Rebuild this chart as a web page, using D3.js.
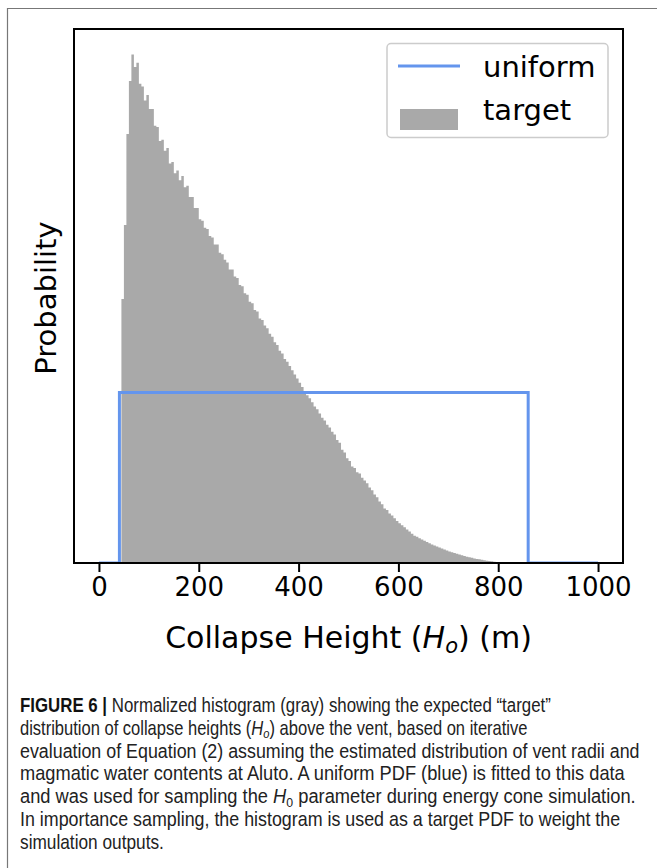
<!DOCTYPE html>
<html>
<head>
<meta charset="utf-8">
<script src="https://cdn.jsdelivr.net/npm/d3@7"></script>
<style>
  html, body { margin: 0; padding: 0; background: #fff; }
  svg { display: block; }
</style>
</head>
<body>
<svg id="chart" width="657" height="868"></svg>
<script>
// ---------------- DATA ----------------
// Target histogram: bins of width 5 m starting at 45 m; density in units of 1e-3 per m
const targetBinStart = 45;
const targetBinWidth = 5;
const targetDensity = [
  1.89, 2.42, 3.07, 3.45, 3.64, 3.55, 3.58, 3.43, 3.41, 3.31,
  3.35, 3.25, 3.25, 3.13, 3.12, 3.02, 3.03, 2.95, 2.97, 2.86,
  2.87, 2.79, 2.81, 2.74, 2.77, 2.69, 2.70, 2.62, 2.62, 2.54,
  2.54, 2.46, 2.45, 2.40, 2.39, 2.34, 2.33, 2.28, 2.28, 2.22,
  2.21, 2.17, 2.15, 2.10, 2.10, 2.05, 2.04, 1.99, 1.98, 1.93,
  1.92, 1.87, 1.86, 1.81, 1.80, 1.75, 1.74, 1.70, 1.68, 1.64,
  1.62, 1.58, 1.56, 1.52, 1.50, 1.46, 1.44, 1.41, 1.38, 1.35,
  1.32, 1.29, 1.26, 1.23, 1.20, 1.18, 1.15, 1.12, 1.10, 1.07,
  1.04, 1.02, 0.99, 0.97, 0.94, 0.92, 0.88, 0.86, 0.81, 0.79,
  0.75, 0.73, 0.69, 0.68, 0.65, 0.64, 0.61, 0.59, 0.57, 0.54,
  0.52, 0.49, 0.47, 0.44, 0.42, 0.39, 0.38, 0.355, 0.34, 0.32,
  0.30, 0.285, 0.27, 0.255, 0.24, 0.225, 0.21, 0.195, 0.187, 0.177,
  0.168, 0.159, 0.150, 0.141, 0.132, 0.125, 0.118, 0.111, 0.104, 0.097,
  0.090, 0.083, 0.077, 0.072, 0.066, 0.061, 0.056, 0.050, 0.045, 0.041,
  0.037, 0.033, 0.029, 0.026, 0.023, 0.020, 0.017, 0.014, 0.012, 0.009,
  0.007, 0.005, 0.004, 0.003, 0.002, 0.001, 0.001
];

// Uniform PDF (step outline), same density units
const uniformX = [0, 41, 41, 860, 860, 1000];
const uniformY = [0, 0, 1.221, 1.221, 0, 0];

const xTicks = [0, 200, 400, 600, 800, 1000];
const xTickLabels = ["0", "200", "400", "600", "800", "1000"];
const legendLabels = ["uniform", "target"];

const captionLines = [
  [{t: "FIGURE 6 | ", b: true}, {t: "Normalized histogram (gray) showing the expected \u201Ctarget\u201D"}],
  [{t: "distribution of collapse heights ("}, {t: "H", i: true}, {t: "o", i: true, sub: true}, {t: ") above the vent, based on iterative"}],
  [{t: "evaluation of Equation (2) assuming the estimated distribution of vent radii and"}],
  [{t: "magmatic water contents at Aluto. A uniform PDF (blue) is fitted to this data"}],
  [{t: "and was used for sampling the "}, {t: "H", i: true}, {t: "0", sub: true}, {t: " parameter during energy cone simulation."}],
  [{t: "In importance sampling, the histogram is used as a target PDF to weight the"}],
  [{t: "simulation outputs."}]
];
const captionLineWidths = [531, 508, 620, 606, 616, 601, 144];

// ---------------- LAYOUT ----------------
const W = 657, H = 868;
const plot = {left: 74, right: 623, top: 29, bottom: 563};
const blue = "#6495ED";
const gray = "#a9a9a9";
const mplFont = "'DejaVu Sans', Verdana, sans-serif";

const svg = d3.select("#chart");

// outer frame (open at right / bottom)
svg.append("path")
  .attr("d", `M7.5,${H} L7.5,8.5 L${W},8.5`)
  .attr("fill", "none").attr("stroke", "#777").attr("stroke-width", 1.2);

const xMax = d3.max(xTicks), xMin = d3.min(xTicks);
const pad = (xMax - xMin) * 0.05;
const x = d3.scaleLinear().domain([xMin - pad, xMax + pad]).range([plot.left, plot.right]);
const yMax = d3.max(targetDensity) * 1.05;
const y = d3.scaleLinear().domain([0, yMax]).range([plot.bottom, plot.top]);

svg.append("defs").append("clipPath").attr("id", "plotclip")
  .append("rect").attr("x", plot.left).attr("y", plot.top)
  .attr("width", plot.right - plot.left).attr("height", plot.bottom - plot.top);

const g = svg.append("g").attr("clip-path", "url(#plotclip)");

// histogram as step area
const histPts = targetDensity.map((d, i) => ({x0: targetBinStart + i * targetBinWidth, v: d}));
histPts.push({x0: targetBinStart + targetDensity.length * targetBinWidth, v: 0});
const area = d3.area()
  .x(d => x(d.x0))
  .y0(y(0))
  .y1(d => y(d.v))
  .curve(d3.curveStepAfter);
g.append("path").datum(histPts).attr("d", area).attr("fill", gray);

// uniform line
const line = d3.line().x(d => x(d[0])).y(d => y(d[1]));
g.append("path").datum(uniformX.map((v, i) => [v, uniformY[i]]))
  .attr("d", line).attr("fill", "none").attr("stroke", blue)
  .attr("stroke-width", 3).attr("stroke-linejoin", "miter");

// frame (spines)
svg.append("rect")
  .attr("x", plot.left).attr("y", plot.top)
  .attr("width", plot.right - plot.left).attr("height", plot.bottom - plot.top)
  .attr("fill", "none").attr("stroke", "#000").attr("stroke-width", 2);

// x axis
const xAxis = d3.axisBottom(x).tickValues(xTicks)
  .tickFormat((d, i) => xTickLabels[i]).tickSize(9).tickPadding(6);
const ax = svg.append("g").attr("transform", `translate(0,${plot.bottom})`).call(xAxis);
ax.select(".domain").remove();
ax.selectAll(".tick line").attr("stroke", "#000").attr("stroke-width", 2);
ax.selectAll(".tick text").attr("font-family", mplFont).attr("font-size", 26)
  .attr("fill", "#000");

// x label
const xl = svg.append("text")
  .attr("x", (plot.left + plot.right) / 2).attr("y", 648)
  .attr("text-anchor", "middle").attr("font-family", mplFont)
  .attr("font-size", 30).attr("fill", "#000");
xl.append("tspan").text("Collapse Height (");
xl.append("tspan").attr("font-style", "italic").text("H");
xl.append("tspan").attr("font-style", "italic").attr("font-size", 21).attr("dy", 5).text("o");
xl.append("tspan").attr("dy", -5).text(") (m)");

// y label
svg.append("text")
  .attr("transform", `translate(56,${(plot.top + plot.bottom) / 2 + 2}) rotate(-90)`)
  .attr("text-anchor", "middle").attr("font-family", mplFont)
  .attr("font-size", 29).attr("fill", "#000").text("Probability");

// legend
const lg = svg.append("g");
lg.append("rect").attr("x", 387).attr("y", 43.5).attr("width", 221).attr("height", 94)
  .attr("rx", 4).attr("fill", "#fff").attr("fill-opacity", 0.8)
  .attr("stroke", "#cccccc").attr("stroke-width", 1.5);
lg.append("line").attr("x1", 398).attr("x2", 460).attr("y1", 66).attr("y2", 66)
  .attr("stroke", blue).attr("stroke-width", 3);
lg.append("rect").attr("x", 400).attr("y", 109).attr("width", 58).attr("height", 21)
  .attr("fill", gray);
lg.selectAll("text.leg").data(legendLabels).join("text").attr("class", "leg")
  .attr("x", 483).attr("y", (d, i) => 77 + i * 43)
  .attr("font-family", mplFont).attr("font-size", 29).attr("fill", "#000")
  .text(d => d);

// caption (condensed by horizontal scaling to the measured line widths)
const capFont = "'Liberation Sans', Arial, sans-serif";
const cap = svg.append("g");
captionLines.forEach((segs, li) => {
  const t = cap.append("text").attr("x", 0).attr("y", 0)
    .attr("font-family", capFont).attr("font-size", 20).attr("fill", "#222");
  let prevSub = false;
  segs.forEach(s => {
    const sp = t.append("tspan").text(s.t);
    if (s.b) sp.attr("font-weight", "bold").attr("fill", "#111");
    if (s.i) sp.attr("font-style", "italic");
    if (s.sub) { sp.attr("font-size", 13.5).attr("dy", 3.5); prevSub = true; }
    else if (prevSub) { sp.attr("dy", -3.5); prevSub = false; }
  });
  const bb = t.node().getBBox();
  const sx = captionLineWidths[li] / bb.width;
  t.attr("transform", `translate(${20 - bb.x * sx},${712 + li * 22.8}) scale(${sx},1)`);
});
</script>
</body>
</html>
